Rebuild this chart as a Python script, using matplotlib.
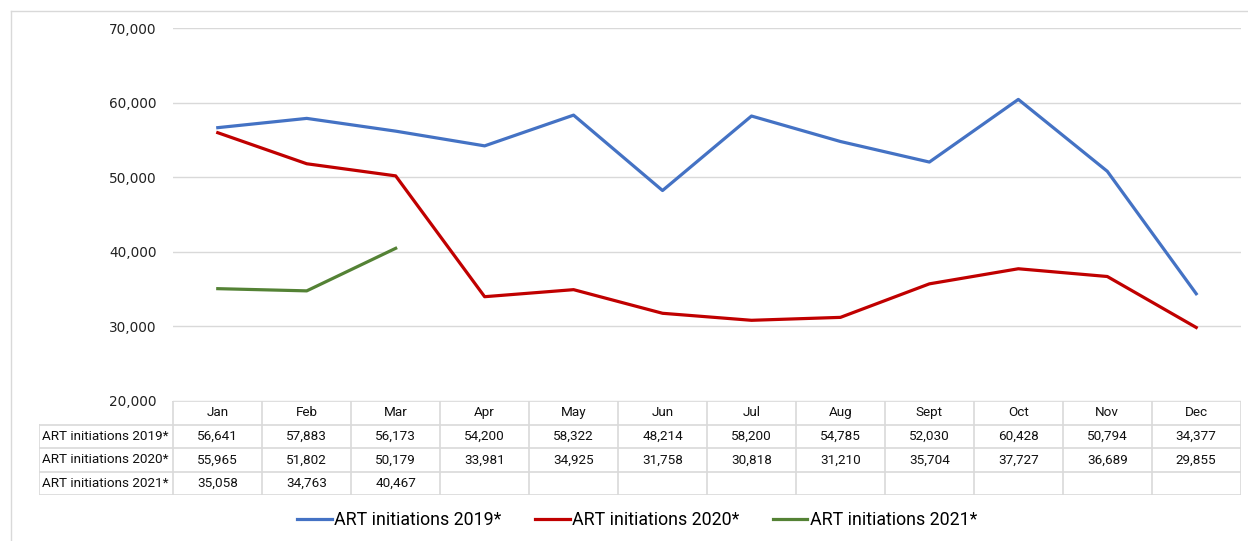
import numpy as np
import matplotlib
matplotlib.use("Agg")
import matplotlib.pyplot as plt
from matplotlib.lines import Line2D

# ---------------------------------------------
# data
# ---------------------------------------------
months = ["Jan", "Feb", "Mar", "Apr", "May", "Jun", "Jul", "Aug", "Sept", "Oct", "Nov", "Dec"]
art_2019 = [56641, 57883, 56173, 54200, 58322, 48214, 58200, 54785, 52030, 60428, 50794, 34377]
art_2020 = [55965, 51802, 50179, 33981, 34925, 31758, 30818, 31210, 35704, 37727, 36689, 29855]
art_2021 = [35058, 34763, 40467]
series_names = ["ART initiations 2019*", "ART initiations 2020*", "ART initiations 2021*"]
y_ticks = [20000, 30000, 40000, 50000, 60000, 70000]

colors = ["#4472C4", "#C00000", "#548235"]
grid_col = "#D9D9D9"
narrow = ["Roboto", "DejaVu Sans"]

W, H = 1248, 541
fig = plt.figure(figsize=(W / 100, H / 100), dpi=100)

# outer chart border (only top/left visible in the crop)
fig.add_artist(Line2D([11 / W, 11 / W], [0, 1 - 11 / H], color=grid_col, lw=1))
fig.add_artist(Line2D([11 / W, 1], [1 - 11 / H, 1 - 11 / H], color=grid_col, lw=1))

# plot area in pixels
px_l, px_r, px_t, px_b = 173.3, 1240.7, 28, 401
ax = fig.add_axes([px_l / W, 1 - px_b / H, (px_r - px_l) / W, (px_b - px_t) / H])
x = np.arange(len(months))
ax.plot(x, art_2019, color=colors[0], lw=2.3, solid_joinstyle="round")
ax.plot(x, art_2020, color=colors[1], lw=2.3, solid_joinstyle="round")
ax.plot(x[:len(art_2021)], art_2021, color=colors[2], lw=2.3, solid_joinstyle="round")
ax.set_xlim(-0.5, len(months) - 0.5)
ax.set_ylim(20000, 70000)
ax.set_yticks(y_ticks)
ax.set_yticklabels([f"{v:,}" for v in y_ticks], fontsize=9.8, color="#222222",
                   family="DejaVu Sans")
ax.set_xticks([])
ax.tick_params(axis="y", length=0, pad=12)
for s in ax.spines.values():
    s.set_visible(False)
ax.grid(axis="y", color=grid_col, lw=1)
ax.set_axisbelow(True)

# ---------------------------------------------
# data table under the chart
# ---------------------------------------------
tab_l, tab_t, tab_b = 39, 401, 495.3
colw = (px_r - px_l) / len(months)
ax_t = fig.add_axes([tab_l / W, 1 - tab_b / H, (px_r - tab_l) / W, (tab_b - tab_t) / H])
x_left = -0.5 - (px_l - tab_l) / colw
ax_t.set_xlim(x_left, len(months) - 0.5)
ax_t.set_ylim(4, 0)
ax_t.axis("off")

rows = [art_2019, art_2020, art_2021]
# horizontal lines
ax_t.plot([-0.5, len(months) - 0.5], [0, 0], color=grid_col, lw=1.2)
for r in range(1, 5):
    ax_t.plot([x_left, len(months) - 0.5], [r, r], color=grid_col, lw=1.2)
# vertical lines
ax_t.plot([x_left, x_left], [1, 4], color=grid_col, lw=1.2)
for i in range(len(months) + 1):
    ax_t.plot([i - 0.5, i - 0.5], [0, 4], color=grid_col, lw=1.2)

txt = dict(fontsize=9.7, family=narrow, color="#111111")
for i, m in enumerate(months):
    ax_t.text(i, 0.5, m, ha="center", va="center", **txt)
for r, vals in enumerate(rows):
    ax_t.text(x_left + 0.03, r + 1.5, series_names[r], ha="left", va="center", **txt)
    for i, v in enumerate(vals):
        ax_t.text(i, r + 1.5, f"{v:,}", ha="center", va="center", **txt)

# legend
handles = [Line2D([], [], color=c, lw=2.3) for c in colors]
fig.legend(handles, series_names, loc="center", bbox_to_anchor=(637 / W, 1 - 520 / H),
           ncol=3, frameon=False, handlelength=1.95, handletextpad=0.12, columnspacing=1.9,
           prop={"family": narrow, "size": 12.8})

fig.savefig("out.png", dpi=100)
